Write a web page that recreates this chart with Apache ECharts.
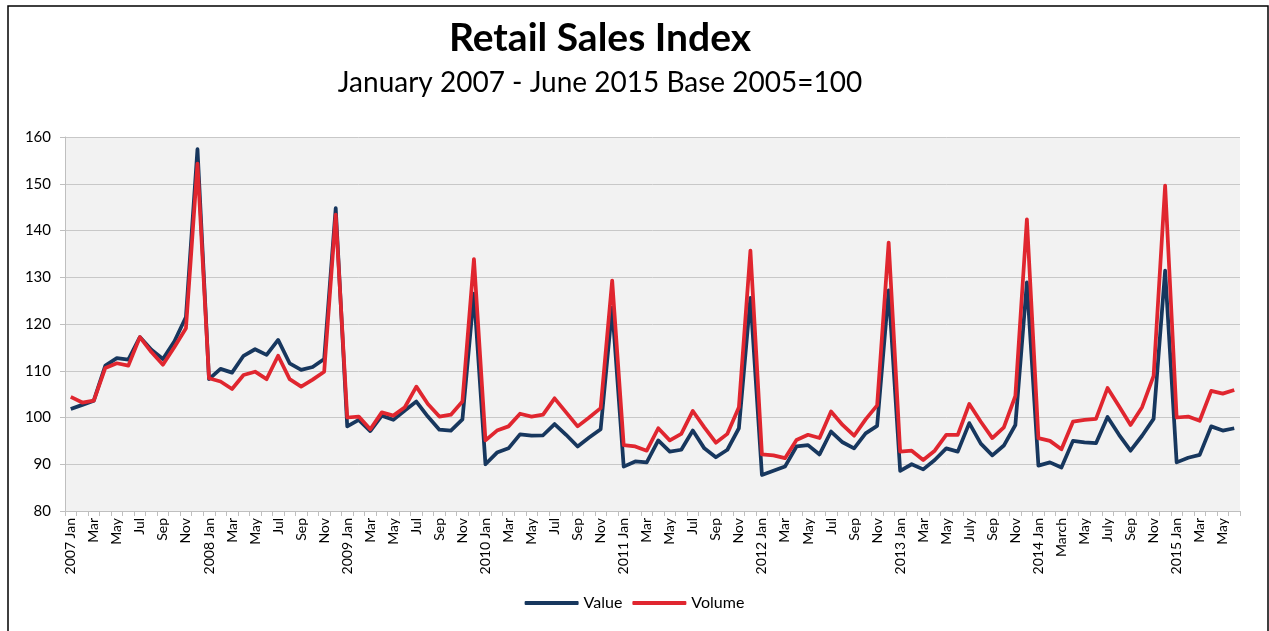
<!DOCTYPE html>
<html>
<head>
<meta charset="utf-8">
<script src="https://cdn.jsdelivr.net/npm/echarts@6/dist/echarts.min.js"></script>
<style>
html,body{margin:0;padding:0;background:#fff;}
#c{width:1269px;height:631px;}
</style>
</head>
<body>
<div id="c"></div>
<script>
// Month labels (x-axis categories), Jan 2007 - Jun 2015
var categories = [
 '2007 Jan','Feb','Mar','Apr','May','Jun','Jul','Aug','Sep','Oct','Nov','Dec',
 '2008 Jan','Feb','Mar','Apr','May','Jun','Jul','Aug','Sep','Oct','Nov','Dec',
 '2009 Jan','Feb','Mar','Apr','May','Jun','Jul','Aug','Sep','Oct','Nov','Dec',
 '2010 Jan','Feb','Mar','Apr','May','Jun','Jul','Aug','Sep','Oct','Nov','Dec',
 '2011 Jan','Feb','Mar','Apr','May','Jun','Jul','Aug','Sep','Oct','Nov','Dec',
 '2012 Jan','Feb','Mar','Apr','May','Jun','Jul','Aug','Sep','Oct','Nov','Dec',
 '2013 Jan','Feb','Mar','Apr','May','Jun','July','Aug','Sep','Oct','Nov','Dec',
 '2014 Jan','Feb','March','Apr','May','Jun','July','Aug','Sep','Oct','Nov','Dec',
 '2015 Jan','Feb','Mar','Apr','May','Jun'
];

var valueSeries = [
 101.8,102.7,103.6,111.1,112.7,112.4,117.2,114.5,112.5,116.3,121.5,157.4,
 108.2,110.4,109.6,113.2,114.6,113.4,116.6,111.6,110.2,110.8,112.5,144.8,
 98.1,99.5,97.1,100.4,99.5,101.5,103.4,100.2,97.4,97.2,99.6,126.5,
 90.0,92.5,93.4,96.4,96.1,96.2,98.6,96.3,93.8,95.7,97.5,123.5,
 89.5,90.6,90.4,95.1,92.7,93.1,97.2,93.4,91.5,93.1,97.7,125.6,
 87.7,88.6,89.5,93.8,94.1,92.1,97.0,94.7,93.4,96.6,98.2,127.2,
 88.6,90.0,88.9,90.9,93.4,92.7,98.8,94.4,91.9,94.0,98.4,128.9,
 89.7,90.4,89.3,95.0,94.7,94.5,100.1,96.3,92.9,96.1,99.7,131.4,
 90.4,91.4,92.0,98.1,97.2,97.7
];

var volumeSeries = [
 104.4,103.2,103.6,110.6,111.6,111.1,117.2,114.0,111.3,115.1,119.1,154.3,
 108.4,107.7,106.1,109.1,109.8,108.2,113.2,108.2,106.6,108.1,109.8,143.4,
 100.0,100.2,97.5,101.1,100.4,102.2,106.6,102.9,100.2,100.6,103.4,133.9,
 95.1,97.2,98.1,100.8,100.2,100.6,104.1,101.1,98.1,100.0,102.0,129.3,
 94.1,93.8,92.9,97.7,95.1,96.5,101.4,97.9,94.6,96.5,102.2,135.7,
 92.1,91.9,91.3,95.2,96.3,95.6,101.3,98.4,96.1,99.6,102.6,137.4,
 92.7,92.9,90.9,92.9,96.3,96.3,102.9,99.1,95.6,97.9,104.6,142.4,
 95.6,95.0,93.2,99.1,99.5,99.7,106.3,102.4,98.4,102.2,108.9,149.6,
 100.0,100.2,99.3,105.7,105.1,105.9
];

var yTicks = {min: 80, max: 160, interval: 10};

var FONT = 'Lato, "Open Sans", sans-serif';
var chart = echarts.init(document.getElementById('c'), null, {renderer: 'canvas'});
chart.setOption({
  backgroundColor: '#ffffff',
  animation: false,
  graphic: [{
    type: 'rect',
    shape: {x: 8, y: 6, width: 1260, height: 640},
    style: {fill: 'none', stroke: '#000', lineWidth: 1.5},
    silent: true, z: 100
  }],
  title: [{
    text: 'Retail Sales Index',
    left: 595, top: 14, textAlign: 'center',
    textStyle: {fontFamily: FONT, fontSize: 39, fontWeight: 'bold', color: '#000'}
  }, {
    text: 'January 2007 - June 2015 Base 2005=100',
    left: 595, top: 64, textAlign: 'center',
    textStyle: {fontFamily: FONT, fontSize: 28, fontWeight: 'normal', color: '#000'}
  }],
  legend: {
    top: 590, left: 'center',
    itemWidth: 54, itemHeight: 4, itemGap: 10,
    icon: 'roundRect',
    textStyle: {fontFamily: FONT, fontSize: 16, color: '#000'},
    data: ['Value', 'Volume']
  },
  grid: {left: 65, right: 29, top: 137, bottom: 120, containLabel: false,
         show: true, backgroundColor: '#f2f2f2', borderWidth: 0},
  xAxis: {
    type: 'category',
    data: categories,
    boundaryGap: true,
    axisLine: {show: true, lineStyle: {color: '#bfbfbf', width: 1}},
    axisTick: {show: true, interval: 0, length: 5, lineStyle: {color: '#bfbfbf'}},
    axisLabel: {interval: 1, rotate: 90, margin: 7, fontFamily: FONT, fontSize: 14, color: '#000'},
    splitLine: {show: false}
  },
  yAxis: {
    type: 'value',
    min: yTicks.min, max: yTicks.max, interval: yTicks.interval,
    axisLine: {show: true, lineStyle: {color: '#bfbfbf', width: 1}},
    axisTick: {show: true, length: 5, lineStyle: {color: '#bfbfbf'}},
    axisLabel: {margin: 14, fontFamily: FONT, fontSize: 15, color: '#000'},
    splitLine: {show: true, lineStyle: {color: '#c8c8c8', width: 1}}
  },
  series: [{
    name: 'Value', type: 'line', data: valueSeries,
    showSymbol: false, symbol: 'none',
    lineStyle: {color: '#17375e', width: 3.75, join: 'round'},
    itemStyle: {color: '#17375e'}
  }, {
    name: 'Volume', type: 'line', data: volumeSeries,
    showSymbol: false, symbol: 'none',
    lineStyle: {color: '#e0262f', width: 3.75, join: 'round'},
    itemStyle: {color: '#e0262f'}
  }]
});
</script>
</body>
</html>
